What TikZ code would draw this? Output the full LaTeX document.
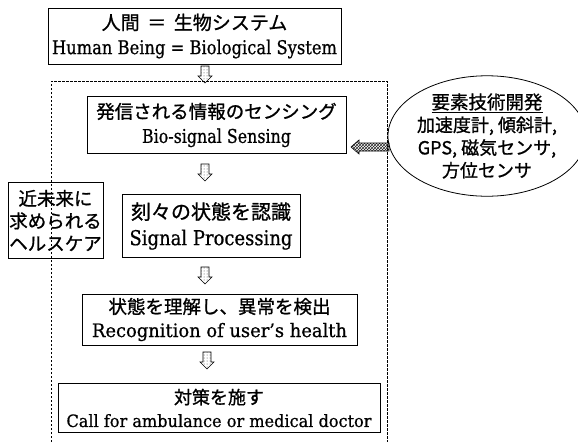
\documentclass[tikz,border=0pt]{standalone}
\usepackage{fontspec}
\usepackage{graphicx}
\setmainfont{DejaVu Serif}[FakeBold=0.7]
\newfontfamily\jp{Noto Sans CJK JP}[FakeBold=1]
\usetikzlibrary{shapes.geometric,patterns}
\newcommand{\fitw}[2]{\resizebox{#1pt}{\height}{#2}}
\newcommand{\jps}[2]{{\jp\fontsize{#1}{#1}\selectfont #2}}
\begin{document}
\begin{tikzpicture}[x=1pt,y=-1pt,
  box/.style={draw, line width=0.8pt, inner sep=0pt, align=center, font=\fontsize{19}{24.5}\selectfont},
  frame/.style={line width=0.6pt, dash pattern=on 2.5pt off 1.5pt},
  pics/downarrow/.style={code={
    \draw[line width=0.6pt, pattern=dots, pattern color=black!75]
      (-4,-8) -- (4,-8) -- (4,2) -- (7,2) -- (0,9) -- (-7,2) -- (-4,2) -- cycle;}},
  pics/leftarrow/.style={code={
    \draw[line width=0.6pt, pattern=crosshatch, pattern color=black!85]
      (19,-4) -- (-11,-4) -- (-11,-7) -- (-19,0) -- (-11,7) -- (-11,4) -- (19,4) -- cycle;}}]
\useasboundingbox (0,0) rectangle (578,442);

% outer dashed frame (open at bottom)
\coordinate (fbl) at (51,442);
\coordinate (ftl) at (51,81);
\coordinate (ftr) at (387,81);
\coordinate (fbr) at (387,442);
\draw[frame] (fbl) -- (ftl) -- (ftr) -- (fbr);

\node[box, minimum width=293pt, minimum height=56pt] (top) at (194.5,36)
  {\jps{19}{人間\hspace{0.4em}＝\hspace{0.4em}生物システム}\\\fitw{285}{Human Being = Biological System}};

\node[box, minimum width=259pt, minimum height=57pt] (sense) at (216.5,125)
  {\jps{18.5}{発信される情報のセンシング}\\\fitw{149}{Bio-signal Sensing}};

\node[box, minimum width=178pt, minimum height=63pt, font=\fontsize{20.5}{26}\selectfont] (proc) at (211,226)
  {\jps{20}{刻々の状態を認識}\\\fitw{163}{Signal Processing}};

\node[box, minimum width=95pt, minimum height=76pt, font=\fontsize{18.5}{22.5}\selectfont] (near) at (55.5,220.5)
  {\jps{18.5}{近未来に}\\\jps{18.5}{求められる}\\\jps{18.5}{ヘルスケア}};

\node[box, minimum width=275pt, minimum height=51pt, font=\fontsize{18.5}{23.5}\selectfont] (recog) at (219.5,319.5)
  {\jps{18.5}{状態を理解し、異常を検出}\\\fitw{255}{Recognition of user's health}};

\node[box, minimum width=322pt, minimum height=49pt, font=\fontsize{17}{23}\selectfont] (act) at (219,408)
  {\jps{18}{対策を施す}\\\fitw{305}{Call for ambulance or medical doctor}};

\node[draw, ellipse, line width=0.8pt, minimum width=176pt, minimum height=106pt, inner sep=0pt,
  align=center, font=\fontsize{18}{22.7}\selectfont] (tech) at (487,136)
  {\jps{18.5}{\underline{要素技術開発}}\\\jps{18}{加速度計, 傾斜計,}\\\jps{18}{GPS, 磁気センサ,}\\\jps{18}{方位センサ}};

\pic at (205,74) {downarrow};
\pic at (205,172) {downarrow};
\pic at (205,275) {downarrow};
\pic at (207,360) {downarrow};
\pic at (370,147) {leftarrow};
\end{tikzpicture}
\end{document}
